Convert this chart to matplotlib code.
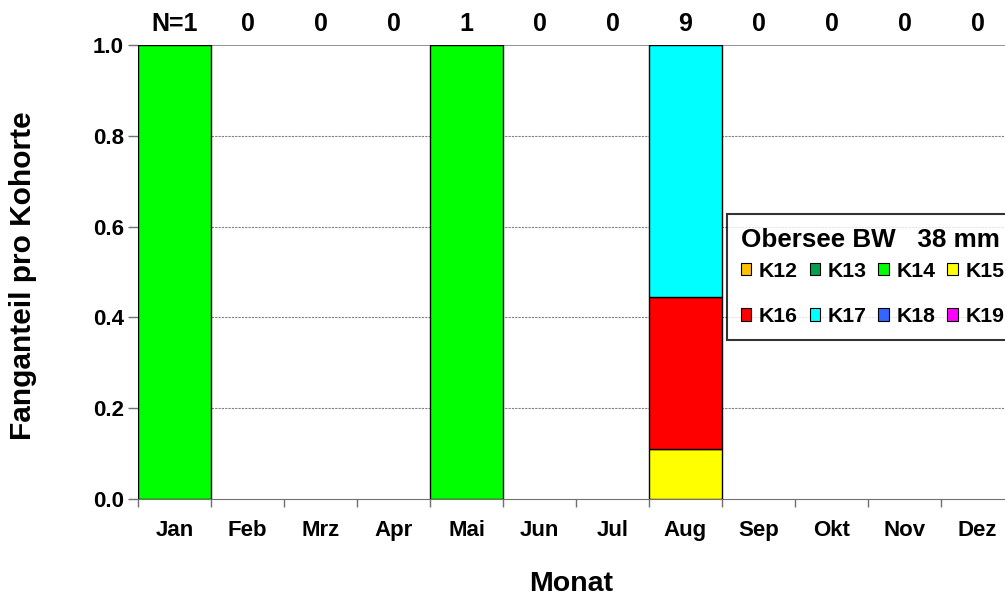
import matplotlib as mpl
mpl.use('agg')
import matplotlib.pyplot as plt
from matplotlib.patches import Patch
import numpy as np

plt.rcParams['font.family'] = ['Liberation Sans', 'DejaVu Sans']
plt.rcParams['font.weight'] = 'bold'

months = ['Jan','Feb','Mrz','Apr','Mai','Jun','Jul','Aug','Sep','Okt','Nov','Dez']
n_labels = ['N=1','0','0','0','1','0','0','9','0','0','0','0']
cohorts = ['K12','K13','K14','K15','K16','K17','K18','K19']
colors = ['#FFC000','#00A050','#00FF00','#FFFF00','#FF0000','#00FFFF','#3366FF','#FF00FF']

# fraction of catch per cohort, per month
K12 = [0,0,0,0,0,0,0,0,0,0,0,0]
K13 = [0,0,0,0,0,0,0,0,0,0,0,0]
K14 = [1,0,0,0,1,0,0,0,0,0,0,0]
K15 = [0,0,0,0,0,0,0,0.111,0,0,0,0]
K16 = [0,0,0,0,0,0,0,0.333,0,0,0,0]
K17 = [0,0,0,0,0,0,0,0.556,0,0,0,0]
K18 = [0,0,0,0,0,0,0,0,0,0,0,0]
K19 = [0,0,0,0,0,0,0,0,0,0,0,0]
series = [K12,K13,K14,K15,K16,K17,K18,K19]

fig = plt.figure(figsize=(10.05,6.01), dpi=100)
ax = fig.add_axes([138/1005, 102/601, 876/1005, 454/601])

x = np.arange(len(months))
bottom = np.zeros(len(months))
for vals, col in zip(series, colors):
  vals = np.array(vals, dtype=float)
  mask = vals > 0
  ax.bar(x[mask], vals[mask], bottom=bottom[mask], width=1.0, color=col,
         edgecolor='black', linewidth=1.0, zorder=3)
  bottom += vals

ax.set_xlim(-0.5, 11.5)
ax.set_ylim(0, 1.0)
ax.set_yticks([0,0.2,0.4,0.6,0.8,1.0])
ax.set_yticklabels(['0.0','0.2','0.4','0.6','0.8','1.0'])
ax.set_xticks(x)
ax.set_xticklabels(months)
ax.set_xticks(np.arange(-0.5, 12, 1), minor=True)
ax.tick_params(axis='x', which='major', length=0, pad=15, labelsize=16)
ax.tick_params(axis='x', which='minor', length=6, color='#707070', width=1)
ax.tick_params(axis='y', length=7, color='#707070', width=1, labelsize=16, pad=3)

for y in [0.2,0.4,0.6,0.8]:
  ax.axhline(y, color='#808080', linestyle=(0,(2,1)), linewidth=0.8, zorder=1)
ax.axhline(1.0, color='#808080', linewidth=1.2, zorder=1)

for s in ['top','right','left']:
  ax.spines[s].set_visible(False)
ax.spines['bottom'].set_color('#707070')

for xi, lab in zip(x, n_labels):
  ax.text(xi, 1.046, lab, ha='center', va='center', fontsize=18, fontweight='bold',
          transform=ax.get_xaxis_transform())

fig.text(23/1005, 1-276/601, 'Fanganteil pro Kohorte', rotation=90, ha='center', va='center',
         fontsize=21.5, fontweight='bold')
fig.text(571/1005, 1-584/601, 'Monat', ha='center', va='center', fontsize=20.5, fontweight='bold')

# legend filled row-wise like the original
order = [0,4,1,5,2,6,3,7]
handles = [Patch(facecolor=colors[i], edgecolor='black', linewidth=0.8) for i in order]
labels = [cohorts[i] for i in order]
leg = fig.legend(handles, labels, ncol=4, loc='upper left', bbox_to_anchor=(727/1005, 1-214/601),
                 title='Obersee BW   38 mm', title_fontproperties={'weight':'bold','size':18.7},
                 fontsize=15.3, frameon=True, fancybox=False, handlelength=0.5, handleheight=0.5,
                 handletextpad=0.35, columnspacing=0.55, labelspacing=1.25, borderpad=0.65,
                 borderaxespad=0)
leg.get_frame().set_edgecolor('black')
leg.get_frame().set_linewidth(1.5)
leg._legend_box.align = 'left'
leg._legend_box.sep = 7  # tighter gap between title and entries

fig.savefig('out.png', dpi=100)
